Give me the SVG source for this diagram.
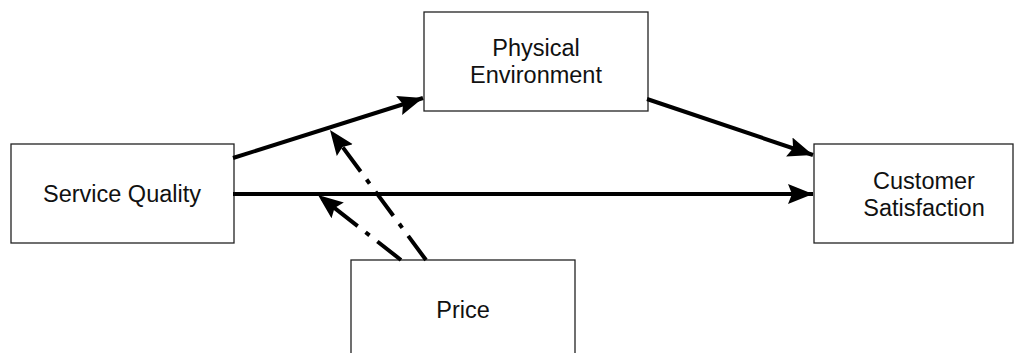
<svg xmlns="http://www.w3.org/2000/svg" width="1024" height="353" viewBox="0 0 1024 353">
<style>
.box{fill:#fff;stroke:#222;stroke-width:1.3}
.lbl{font-family:"Liberation Sans",Arial,sans-serif;font-size:23.5px;fill:#111;text-anchor:middle}
.conn{stroke:#000;stroke-width:4;fill:none}
.dd{stroke-dasharray:30,10,5,10}
</style>
<defs>
<marker id="ah" markerUnits="userSpaceOnUse" markerWidth="28" markerHeight="22" refX="25" refY="10" orient="auto">
<path d="M0,0 L25,10 L0,20 L4,10 Z" fill="#000"/>
</marker>
</defs>
<rect width="1024" height="353" fill="#fff"/>
<g id="sq"><rect class="box" x="11" y="144" width="223" height="99"/><text class="lbl" x="122" y="202">Service Quality</text></g>
<g id="pe"><rect class="box" x="424" y="12" width="224" height="99"/><text class="lbl" x="536" y="56">Physical</text><text class="lbl" x="536" y="83">Environment</text></g>
<g id="cs"><rect class="box" x="814" y="144" width="199" height="99"/><text class="lbl" x="924" y="189">Customer</text><text class="lbl" x="924" y="216">Satisfaction</text></g>
<g id="pr"><rect class="box" x="351" y="260" width="224" height="100"/><text class="lbl" x="463" y="318">Price</text></g>
<g id="connectors">
<line class="conn" x1="233" y1="158" x2="423" y2="98" marker-end="url(#ah)"/>
<line class="conn" x1="647" y1="99" x2="813" y2="155" marker-end="url(#ah)"/>
<line class="conn" x1="233" y1="194" x2="813" y2="194" marker-end="url(#ah)"/>
<line class="conn dd" x1="426" y1="260" x2="330" y2="130" marker-end="url(#ah)"/>
<line class="conn dd" x1="401" y1="260" x2="318" y2="195" marker-end="url(#ah)"/>
</g>
</svg>
